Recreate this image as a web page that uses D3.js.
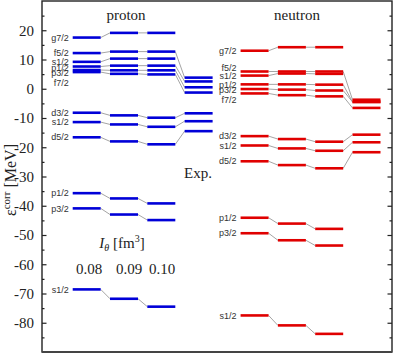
<!DOCTYPE html>
<html>
<head>
<meta charset="utf-8">
<script src="https://cdn.jsdelivr.net/npm/d3@7"></script>
<style>
  body { margin: 0; background: #fff; }
  svg text { font-family: "Liberation Serif", "Times New Roman", serif; fill: #222; }
  .lab { font-family: "Liberation Sans", Arial, sans-serif; font-size: 9px; fill: #333; }
</style>
</head>
<body>
<div id="chart"></div>
<script>
// level names (same order for all columns)
const protonLabels = ["g7/2", "f5/2", "s1/2", "p1/2", "p3/2", "f7/2", "d3/2", "s1/2", "d5/2", "p1/2", "p3/2", "s1/2"]
const neutronLabels = ["g7/2", "f5/2", "s1/2", "p1/2", "p3/2", "f7/2", "d3/2", "s1/2", "d5/2", "p1/2", "p3/2", "s1/2"]

// single particle energies [MeV] for I_theta = 0.08, 0.09, 0.10 and experiment
const protonI08 = [17.5, 12.2, 9.2, 7.6, 6.4, 5.7, -8.2, -11.4, -16.6, -35.7, -40.9, -68.6]
const protonI09 = [19.1, 12.7, 10.3, 7.9, 6.3, 5.1, -9.1, -12.2, -18.0, -37.5, -43.0, -71.8]
const protonI10 = [19.1, 12.7, 10.3, 7.9, 6.3, 4.9, -9.9, -13.0, -19.0, -39.2, -44.9, -74.5]
const protonExp = [null, 3.8, null, 2.5, 0.5, -1.3, -8.4, -11.1, -14.5, null, null, null]

const neutronI08 = [13.0, 5.9, 4.5, 1.5, -0.1, -1.6, -16.2, -19.4, -24.8, -44.1, -49.4, -77.5]
const neutronI09 = [14.2, 5.9, 5.2, 1.5, -0.3, -2.2, -17.2, -20.4, -26.1, -46.1, -51.8, -80.9]
const neutronI10 = [14.2, 5.9, 5.1, 1.4, -0.6, -2.6, -18.1, -21.2, -27.2, -47.9, -53.6, -83.8]
const neutronExp = [null, -3.75, null, -4.5, -4.5, -6.55, -15.7, -18.3, -21.7, null, null, null]

const iThetaTicks = ["0.08", "0.09", "0.10"]
const yTicks = [20, 10, 0, -10, -20, -30, -40, -50, -60, -70, -80]

// label nudges (px) where labels crowd together
const protonLabelShift = [0, 0, 0, 1.5, 3, 10.5, 0, 0, 0, 0, 0, 0]
const neutronLabelShift = [0, -3.5, 0.5, 0, 1.3, 6, 0, 0, 0, 0, 0, 0]

const width = 395
const height = 357
const mLeft = 42, mRight = 392, mTop = 1, mBottom = 352

const svg = d3.select("#chart").append("svg")
  .attr("width", width)
  .attr("height", height)

const y = d3.scaleLinear().domain([-90, 30]).range([mBottom, mTop])
// column slots: proton 0..3, neutron 4.5..7.5
const x = d3.scaleLinear().domain([0, 7.5]).range([86.7, 366.5])
const half = 14

// axes (ticks inward)
svg.append("g")
  .attr("transform", "translate(" + mLeft + ",0)")
  .call(d3.axisLeft(y).tickValues(d3.range(-85, 30, 10)).tickSize(-2.5).tickFormat(""))
svg.append("g")
  .attr("class", "yaxis")
  .attr("transform", "translate(" + mLeft + ",0)")
  .call(d3.axisLeft(y).tickValues(yTicks).tickSize(-4.5).tickPadding(8).tickFormat(d3.format("d")))
svg.append("g")
  .attr("transform", "translate(" + mRight + ",0)")
  .call(d3.axisRight(y).tickValues(d3.range(-85, 30, 10)).tickSize(-2.5).tickFormat(""))
svg.append("g")
  .attr("transform", "translate(" + mRight + ",0)")
  .call(d3.axisRight(y).tickValues(yTicks).tickSize(-4.5).tickFormat(""))
svg.selectAll(".domain").remove()
svg.selectAll(".tick line").attr("stroke", "#222").attr("stroke-width", 1.2)
svg.selectAll(".yaxis text")
  .style("font-family", "'Liberation Serif', serif")
  .style("font-size", "15px")
  .attr("fill", "#222")
  .text(d => d < 0 ? "-" + Math.abs(d) : d)

svg.append("rect")
  .attr("x", mLeft).attr("y", mTop)
  .attr("width", mRight - mLeft).attr("height", mBottom - mTop)
  .attr("fill", "none").attr("stroke", "#222").attr("stroke-width", 1.4)
svg.append("line")
  .attr("x1", mLeft).attr("x2", mRight).attr("y1", mBottom).attr("y2", mBottom)
  .attr("stroke", "#444").attr("stroke-width", 2)

function drawSide(labels, cols, start, color, shift) {
  const g = svg.append("g")
  // connectors
  for (let c = 0; c < cols.length - 1; c++) {
    labels.forEach((lab, i) => {
      const a = cols[c][i], b = cols[c + 1][i]
      if (a == null || b == null) return
      g.append("line")
        .attr("x1", x(start + c) + half).attr("y1", y(a))
        .attr("x2", x(start + c + 1) - half).attr("y2", y(b))
        .attr("stroke", "#9a9a9a").attr("stroke-width", 0.9)
    })
  }
  // levels
  cols.forEach((vals, c) => {
    g.selectAll(null)
      .data(vals.filter(v => v != null))
      .join("line")
      .attr("x1", x(start + c) - half).attr("x2", x(start + c) + half)
      .attr("y1", d => y(d)).attr("y2", d => y(d))
      .attr("stroke", color).attr("stroke-width", 2.6)
  })
  // labels
  g.selectAll(null)
    .data(labels)
    .join("text")
    .attr("class", "lab")
    .attr("x", x(start) - half - 4)
    .attr("y", (d, i) => y(cols[0][i]) + shift[i])
    .attr("dy", "0.35em")
    .attr("text-anchor", "end")
    .text(d => d)
}

drawSide(protonLabels, [protonI08, protonI09, protonI10, protonExp], 0, "#0000d8", protonLabelShift)
drawSide(neutronLabels, [neutronI08, neutronI09, neutronI10, neutronExp], 4.5, "#e00000", neutronLabelShift)

svg.append("text").attr("x", 126).attr("y", 20).attr("text-anchor", "middle")
  .style("font-size", "15px").text("proton")
svg.append("text").attr("x", 297).attr("y", 20).attr("text-anchor", "middle")
  .style("font-size", "15px").text("neutron")
svg.append("text").attr("x", 198).attr("y", 178).attr("text-anchor", "middle")
  .style("font-size", "15px").text("Exp.")

// I_theta label
const it = svg.append("text").attr("x", 122).attr("y", 248).attr("text-anchor", "middle")
  .style("font-size", "15px")
it.append("tspan").style("font-style", "italic").text("I")
it.append("tspan").style("font-style", "italic").style("font-size", "10px").attr("dy", 3).text("θ")
it.append("tspan").attr("dy", -3).text(" [fm")
it.append("tspan").style("font-size", "10px").attr("dy", -6).text("3")
it.append("tspan").attr("dy", 6).text("]")

svg.selectAll(null)
  .data(iThetaTicks)
  .join("text")
  .attr("x", (d, i) => [89, 129, 162][i])
  .attr("y", 274)
  .attr("text-anchor", "middle")
  .style("font-size", "15px")
  .text(d => d)

// y axis title
const yl = svg.append("text")
  .attr("transform", "translate(16,180) rotate(-90)")
  .attr("text-anchor", "middle")
  .style("font-size", "16px")
yl.append("tspan").text("ε")
yl.append("tspan").style("font-size", "11px").attr("dy", -6).text("corr")
yl.append("tspan").attr("dy", 6).text(" [MeV]")
</script>
</body>
</html>
